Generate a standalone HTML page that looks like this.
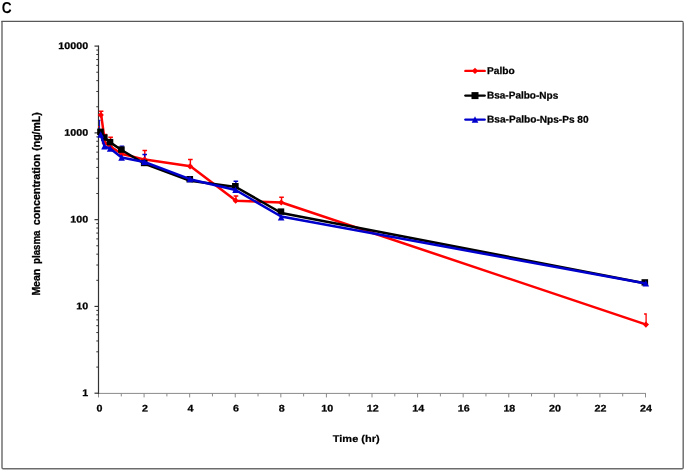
<!DOCTYPE html>
<html><head><meta charset="utf-8"><title>C</title>
<style>
html,body{margin:0;padding:0;background:#fff}
svg{display:block}
text{font-family:"Liberation Sans",sans-serif;font-weight:bold;fill:#000}
</style></head><body>
<svg width="685" height="471" viewBox="0 0 685 471">
<rect width="685" height="471" fill="#fff"/>
<text transform="translate(1.7 13.2) rotate(0.03)" font-size="15.9" textLength="9.9" lengthAdjust="spacingAndGlyphs">C</text>
<path d="M2 20.9V467.5Q2 468.7 3.2 468.7H682Q683.2 468.7 683.2 467.5V22.4" fill="none" stroke="#6c6c6c" stroke-width="1.45"/><path d="M1.4 21.4H682.2Q683.2 21.4 683.2 22.6" fill="none" stroke="#585858" stroke-width="1.15"/>
<g stroke="#8a8a8a" stroke-width="1" fill="none">
<path d="M98.5 393.4H646.0"/>
<path d="M98.50 393.4v4"/>
<path d="M121.29 393.4v3"/>
<path d="M144.08 393.4v4"/>
<path d="M166.88 393.4v3"/>
<path d="M189.67 393.4v4"/>
<path d="M212.46 393.4v3"/>
<path d="M235.25 393.4v4"/>
<path d="M258.04 393.4v3"/>
<path d="M280.83 393.4v4"/>
<path d="M303.62 393.4v3"/>
<path d="M326.42 393.4v4"/>
<path d="M349.21 393.4v3"/>
<path d="M372.00 393.4v4"/>
<path d="M394.79 393.4v3"/>
<path d="M417.58 393.4v4"/>
<path d="M440.38 393.4v3"/>
<path d="M463.17 393.4v4"/>
<path d="M485.96 393.4v3"/>
<path d="M508.75 393.4v4"/>
<path d="M531.54 393.4v3"/>
<path d="M554.33 393.4v4"/>
<path d="M577.12 393.4v3"/>
<path d="M599.92 393.4v4"/>
<path d="M622.71 393.4v3"/>
<path d="M645.50 393.4v4"/>
</g>
<g stroke="#333" stroke-width="1.2" fill="none">
<path d="M98.5 45.6V393.9"/>
<path d="M98.5 393.20h-4"/>
<path d="M98.5 367.08h-2.2" stroke-width="1"/>
<path d="M98.5 351.80h-2.2" stroke-width="1"/>
<path d="M98.5 340.96h-2.2" stroke-width="1"/>
<path d="M98.5 332.55h-2.2" stroke-width="1"/>
<path d="M98.5 325.68h-2.2" stroke-width="1"/>
<path d="M98.5 319.87h-2.2" stroke-width="1"/>
<path d="M98.5 314.83h-2.2" stroke-width="1"/>
<path d="M98.5 310.40h-2.2" stroke-width="1"/>
<path d="M98.5 306.43h-4"/>
<path d="M98.5 280.30h-2.2" stroke-width="1"/>
<path d="M98.5 265.02h-2.2" stroke-width="1"/>
<path d="M98.5 254.18h-2.2" stroke-width="1"/>
<path d="M98.5 245.77h-2.2" stroke-width="1"/>
<path d="M98.5 238.90h-2.2" stroke-width="1"/>
<path d="M98.5 233.09h-2.2" stroke-width="1"/>
<path d="M98.5 228.06h-2.2" stroke-width="1"/>
<path d="M98.5 223.62h-2.2" stroke-width="1"/>
<path d="M98.5 219.65h-4"/>
<path d="M98.5 193.53h-2.2" stroke-width="1"/>
<path d="M98.5 178.25h-2.2" stroke-width="1"/>
<path d="M98.5 167.41h-2.2" stroke-width="1"/>
<path d="M98.5 159.00h-2.2" stroke-width="1"/>
<path d="M98.5 152.13h-2.2" stroke-width="1"/>
<path d="M98.5 146.32h-2.2" stroke-width="1"/>
<path d="M98.5 141.28h-2.2" stroke-width="1"/>
<path d="M98.5 136.85h-2.2" stroke-width="1"/>
<path d="M98.5 132.88h-4"/>
<path d="M98.5 106.75h-2.2" stroke-width="1"/>
<path d="M98.5 91.47h-2.2" stroke-width="1"/>
<path d="M98.5 80.63h-2.2" stroke-width="1"/>
<path d="M98.5 72.22h-2.2" stroke-width="1"/>
<path d="M98.5 65.35h-2.2" stroke-width="1"/>
<path d="M98.5 59.54h-2.2" stroke-width="1"/>
<path d="M98.5 54.51h-2.2" stroke-width="1"/>
<path d="M98.5 50.07h-2.2" stroke-width="1"/>
<path d="M98.5 46.10h-4"/>
</g>
<text transform="translate(82.15 396.00) rotate(0.03) scale(1.1147 1)" font-size="9.6" stroke="#000" stroke-width="0.25">1</text>
<text transform="translate(76.20 309.23) rotate(0.03) scale(1.1147 1)" font-size="9.6" stroke="#000" stroke-width="0.25">10</text>
<text transform="translate(70.25 222.45) rotate(0.03) scale(1.1147 1)" font-size="9.6" stroke="#000" stroke-width="0.25">100</text>
<text transform="translate(64.30 135.68) rotate(0.03) scale(1.1147 1)" font-size="9.6" stroke="#000" stroke-width="0.25">1000</text>
<text transform="translate(58.35 48.90) rotate(0.03) scale(1.1147 1)" font-size="9.6" stroke="#000" stroke-width="0.25">10000</text>
<text transform="translate(96.47 411.5) rotate(0.03) scale(1.1147 1)" font-size="9.6" stroke="#000" stroke-width="0.25">0</text>
<text transform="translate(142.02 411.5) rotate(0.03) scale(1.1147 1)" font-size="9.6" stroke="#000" stroke-width="0.25">2</text>
<text transform="translate(187.56 411.5) rotate(0.03) scale(1.1147 1)" font-size="9.6" stroke="#000" stroke-width="0.25">4</text>
<text transform="translate(233.10 411.5) rotate(0.03) scale(1.1147 1)" font-size="9.6" stroke="#000" stroke-width="0.25">6</text>
<text transform="translate(278.65 411.5) rotate(0.03) scale(1.1147 1)" font-size="9.6" stroke="#000" stroke-width="0.25">8</text>
<text transform="translate(321.22 411.5) rotate(0.03) scale(1.1147 1)" font-size="9.6" stroke="#000" stroke-width="0.25">10</text>
<text transform="translate(366.76 411.5) rotate(0.03) scale(1.1147 1)" font-size="9.6" stroke="#000" stroke-width="0.25">12</text>
<text transform="translate(412.30 411.5) rotate(0.03) scale(1.1147 1)" font-size="9.6" stroke="#000" stroke-width="0.25">14</text>
<text transform="translate(457.85 411.5) rotate(0.03) scale(1.1147 1)" font-size="9.6" stroke="#000" stroke-width="0.25">16</text>
<text transform="translate(503.39 411.5) rotate(0.03) scale(1.1147 1)" font-size="9.6" stroke="#000" stroke-width="0.25">18</text>
<text transform="translate(548.93 411.5) rotate(0.03) scale(1.1147 1)" font-size="9.6" stroke="#000" stroke-width="0.25">20</text>
<text transform="translate(594.48 411.5) rotate(0.03) scale(1.1147 1)" font-size="9.6" stroke="#000" stroke-width="0.25">22</text>
<text transform="translate(640.02 411.5) rotate(0.03) scale(1.1147 1)" font-size="9.6" stroke="#000" stroke-width="0.25">24</text>
<text transform="translate(332.8 441.9) rotate(0.03)" font-size="9.8" textLength="46.8" lengthAdjust="spacingAndGlyphs" stroke="#000" stroke-width="0.2">Time (hr)</text>
<g transform="translate(40.2 296) rotate(-90)" font-size="10" stroke="#000" stroke-width="0.3">
<text x="0.4" y="0" textLength="26.8" lengthAdjust="spacingAndGlyphs">Mean</text>
<text x="32.1" y="0" textLength="33.3" lengthAdjust="spacingAndGlyphs">plasma</text>
<text x="70.8" y="0" textLength="71.1" lengthAdjust="spacingAndGlyphs">concentration</text>
<text x="145.2" y="0" textLength="38.6" lengthAdjust="spacingAndGlyphs">(ng/mL)</text>
</g>
<g>
<path d="M101.09 114.90V111.30M98.79 111.30h4.6" stroke="#ff0000" stroke-width="1.45" fill="none"/>
<path d="M104.90 143.00V134.50M102.60 134.50h4.6" stroke="#ff0000" stroke-width="1.45" fill="none"/>
<path d="M110.60 146.90V137.20M108.30 137.20h4.6" stroke="#ff0000" stroke-width="1.45" fill="none"/>
<path d="M144.78 159.60V150.40M142.48 150.40h4.6" stroke="#ff0000" stroke-width="1.45" fill="none"/>
<path d="M190.37 166.30V159.40M188.07 159.40h4.6" stroke="#ff0000" stroke-width="1.45" fill="none"/>
<path d="M235.95 200.70V195.90M233.65 195.90h4.6" stroke="#ff0000" stroke-width="1.45" fill="none"/>
<path d="M281.53 202.50V197.20M279.23 197.20h4.6" stroke="#ff0000" stroke-width="1.45" fill="none"/>
<path d="M646.10 324.6V314h-2" stroke="#ff0000" stroke-width="1.3" fill="none"/>
<path d="M121.89 157.60V146.10M119.59 146.10h4.6" stroke="#0000cc" stroke-width="1.45" fill="none"/>
<path d="M144.68 162.00V154.40M142.38 154.40h4.6" stroke="#0000cc" stroke-width="1.45" fill="none"/>
<path d="M235.85 190.00V181.20M233.55 181.20h4.6" stroke="#0000cc" stroke-width="1.45" fill="none"/>
<path d="M99.6 134.6V120.3M98.6 120.3h1.9" stroke="#0000cc" stroke-width="1" fill="none"/>
<rect x="98.2" y="126" width="1.2" height="1.4" fill="#f00"/>
</g>
<g>
<polyline points="101.19,114.90 105.00,143.00 110.70,146.90 122.09,154.00 144.88,159.60 190.47,166.30 236.05,200.70 281.63,202.50 646.30,324.60" fill="none" stroke="#ff0000" stroke-width="2.5" stroke-linejoin="round" stroke-linecap="round"/>
<path d="M100.79 111.80l3.1 3.1l-3.1 3.1l-3.1 -3.1z" fill="#ff0000"/>
<path d="M104.60 139.90l3.1 3.1l-3.1 3.1l-3.1 -3.1z" fill="#ff0000"/>
<path d="M110.30 143.80l3.1 3.1l-3.1 3.1l-3.1 -3.1z" fill="#ff0000"/>
<path d="M121.69 150.90l3.1 3.1l-3.1 3.1l-3.1 -3.1z" fill="#ff0000"/>
<path d="M144.48 156.50l3.1 3.1l-3.1 3.1l-3.1 -3.1z" fill="#ff0000"/>
<path d="M190.07 163.20l3.1 3.1l-3.1 3.1l-3.1 -3.1z" fill="#ff0000"/>
<path d="M235.65 197.60l3.1 3.1l-3.1 3.1l-3.1 -3.1z" fill="#ff0000"/>
<path d="M281.23 199.40l3.1 3.1l-3.1 3.1l-3.1 -3.1z" fill="#ff0000"/>
<path d="M645.90 321.50l3.1 3.1l-3.1 3.1l-3.1 -3.1z" fill="#ff0000"/>
</g>
<g>
<polyline points="100.99,132.30 104.80,138.00 110.50,142.60 121.89,150.20 144.68,163.80 190.27,180.80 235.85,187.00 281.43,213.00 646.10,283.40" fill="none" stroke="#000000" stroke-width="2.5" stroke-linejoin="round" stroke-linecap="round"/>
<rect x="97.19" y="128.60" width="6.6" height="6.4" fill="#000000"/>
<rect x="101.00" y="134.30" width="6.6" height="6.4" fill="#000000"/>
<rect x="106.70" y="138.90" width="6.6" height="6.4" fill="#000000"/>
<rect x="118.09" y="146.40" width="6.6" height="6.4" fill="#000000"/>
<rect x="140.88" y="159.80" width="6.6" height="6.4" fill="#000000"/>
<rect x="186.47" y="176.00" width="6.6" height="6.4" fill="#000000"/>
<rect x="232.05" y="183.00" width="6.6" height="6.4" fill="#000000"/>
<rect x="277.63" y="208.40" width="6.6" height="6.4" fill="#000000"/>
<rect x="641.50" y="279.20" width="6.6" height="6.4" fill="#000000"/>
</g>
<g>
<polyline points="100.69,134.60 104.50,146.30 110.20,148.60 121.59,157.60 144.38,162.00 189.97,179.20 235.55,190.00 281.13,216.50 645.80,283.50" fill="none" stroke="#0000cc" stroke-width="2.5" stroke-linejoin="round" stroke-linecap="round"/>
<path d="M100.69 131.20l3.3 6.5h-6.6z" fill="#0000cc"/>
<path d="M104.50 142.90l3.3 6.5h-6.6z" fill="#0000cc"/>
<path d="M110.20 145.20l3.3 6.5h-6.6z" fill="#0000cc"/>
<path d="M121.59 154.20l3.3 6.5h-6.6z" fill="#0000cc"/>
<path d="M144.38 158.60l3.3 6.5h-6.6z" fill="#0000cc"/>
<path d="M189.97 175.80l3.3 6.5h-6.6z" fill="#0000cc"/>
<path d="M235.55 186.60l3.3 6.5h-6.6z" fill="#0000cc"/>
<path d="M281.13 214.00l3.3 6.5h-6.6z" fill="#0000cc"/>
<path d="M645.80 280.10l3.3 6.5h-6.6z" fill="#0000cc"/>
</g>
<path d="M465.4 70.9h19.3" stroke="#ff0000" stroke-width="2.4" stroke-linecap="round" fill="none"/>
<path d="M475 67.7l3.2 3.2l-3.2 3.2l-3.2 -3.2z" fill="#ff0000"/>
<text transform="translate(487 73.90) rotate(0.03)" font-size="9.9" textLength="27.6" lengthAdjust="spacingAndGlyphs" stroke="#000" stroke-width="0.25">Palbo</text>
<path d="M465.4 95.6h19.3" stroke="#000000" stroke-width="2.4" stroke-linecap="round" fill="none"/>
<rect x="471.5" y="92.1" width="7" height="7" fill="#000000"/>
<text transform="translate(487 98.60) rotate(0.03)" font-size="9.9" textLength="71.2" lengthAdjust="spacingAndGlyphs" stroke="#000" stroke-width="0.25">Bsa-Palbo-Nps</text>
<path d="M465.4 119.6h19.3" stroke="#0000cc" stroke-width="2.4" stroke-linecap="round" fill="none"/>
<path d="M475 116.19999999999999l3.3 6.5h-6.6z" fill="#0000cc"/>
<text transform="translate(487 122.60) rotate(0.03)" font-size="9.9" textLength="101.6" lengthAdjust="spacingAndGlyphs" stroke="#000" stroke-width="0.25">Bsa-Palbo-Nps-Ps 80</text>
</svg></body></html>
